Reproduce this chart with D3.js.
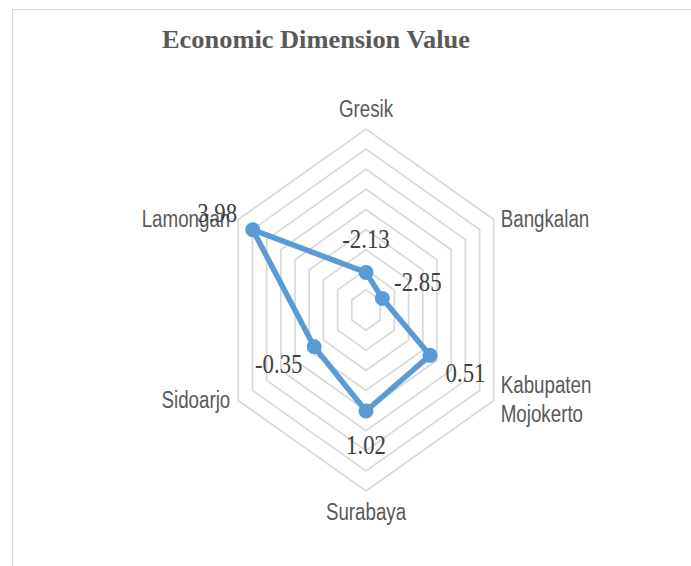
<!DOCTYPE html>
<html>
<head>
<meta charset="utf-8">
<script src="https://cdn.jsdelivr.net/npm/d3@7"></script>
<style>
  body { margin: 0; background: #fff; }
  svg { display: block; }
</style>
</head>
<body>
<svg id="chart"></svg>
<script>
const categories = ['Gresik', 'Bangkalan', 'Kabupaten Mojokerto', 'Surabaya', 'Sidoarjo', 'Lamongan'];
const values = [-2.13, -2.85, 0.51, 1.02, -0.35, 3.98];
const valueLabels = ['-2.13', '-2.85', '0.51', '1.02', '-0.35', '3.98'];
const axisMin = -4;
const axisMax = 5;
const gridTicks = [-3, -2, -1, 0, 1, 2, 3, 4, 5];
const chartTitle = 'Economic Dimension Value';

const width = 691, height = 566;
const svg = d3.select('#chart').attr('width', width).attr('height', height);

// chart area frame (only top and left edges visible)
svg.append('line').attr('x1', 12.5).attr('y1', 9.5).attr('x2', width).attr('y2', 9.5)
    .attr('stroke', '#d9d9d9').attr('stroke-width', 1);
svg.append('line').attr('x1', 12.5).attr('y1', 9.5).attr('x2', 12.5).attr('y2', height)
    .attr('stroke', '#d9d9d9').attr('stroke-width', 1);

// the whole picture is squeezed horizontally
const squeeze = 0.815;
const cx = 366, cy = 310, radius = 181;

const rScale = d3.scaleLinear().domain([axisMin, axisMax]).range([0, radius]);
const angle = d3.scaleLinear().domain([0, categories.length]).range([0, 2 * Math.PI]);

function pos(i, r) {
    let a = angle(i);
    return [cx + Math.sin(a) * r * squeeze, cy - Math.cos(a) * r];
}

svg.append('text')
    .attr('x', 316)
    .attr('y', 48)
    .attr('text-anchor', 'middle')
    .attr('font-family', '"Liberation Serif", "Times New Roman", serif')
    .attr('font-weight', 'bold')
    .attr('font-size', 25)
    .attr('fill', '#595959')
    .attr('textLength', 308)
    .attr('lengthAdjust', 'spacingAndGlyphs')
    .text(chartTitle);

// grid rings
let grid = svg.append('g').attr('class', 'grid');
grid.selectAll('path')
    .data(gridTicks)
    .join('path')
    .attr('d', t => {
        let pts = categories.map((c, i) => pos(i, rScale(t)));
        return d3.line()(pts) + 'Z';
    })
    .attr('fill', 'none')
    .attr('stroke', '#d9d9d9')
    .attr('stroke-width', 1.75);

// category labels
let catGroup = svg.append('g').attr('class', 'categories');
categories.forEach((c, i) => {
    let [vx, vy] = pos(i, radius);
    let s = Math.sin(angle(i)), k = Math.cos(angle(i));
    let anchor = Math.abs(s) < 0.01 ? 'middle' : (s > 0 ? 'start' : 'end');
    let lines = c.length > 12 ? c.split(' ') : [c];
    let x = vx + (Math.abs(s) < 0.01 ? 0 : (s > 0 ? 7 : -8));
    let y;
    if (Math.abs(s) < 0.01) {
        y = k > 0 ? vy - 12.5 : vy + 29;
    } else {
        y = vy + 7 - (lines.length - 1) * 14.5;
    }
    let t = catGroup.append('text')
        .attr('transform', `translate(${x},${y}) scale(${squeeze},1)`)
        .attr('text-anchor', anchor)
        .attr('font-family', '"Liberation Sans", Arial, sans-serif')
        .attr('font-size', 23)
        .attr('fill', '#595959');
    lines.forEach((l, j) => {
        t.append('tspan').attr('x', 0).attr('y', j * 29).text(l);
    });
});

// series
let pts = values.map((v, i) => pos(i, rScale(v)));
svg.append('path')
    .attr('d', d3.line()(pts) + 'Z')
    .attr('fill', 'none')
    .attr('stroke', '#5b9bd5')
    .attr('stroke-width', 5.5)
    .attr('stroke-linejoin', 'round');

svg.append('g').selectAll('circle')
    .data(pts)
    .join('circle')
    .attr('cx', d => d[0])
    .attr('cy', d => d[1])
    .attr('r', 7.5)
    .attr('fill', '#5b9bd5');

// data labels
svg.append('g').selectAll('text')
    .data(values)
    .join('text')
    .attr('transform', (v, i) => {
        let [px, py] = pts[i];
        let a = angle(i);
        let lx = px + Math.sin(a) * 41;
        let ly = py - Math.cos(a) * 34 + 9.5;
        return `translate(${lx},${ly}) scale(${squeeze},1)`;
    })
    .attr('text-anchor', 'middle')
    .attr('font-family', '"Liberation Serif", "Times New Roman", serif')
    .attr('font-size', 28)
    .attr('fill', '#404040')
    .text((v, i) => valueLabels[i]);
</script>
</body>
</html>
